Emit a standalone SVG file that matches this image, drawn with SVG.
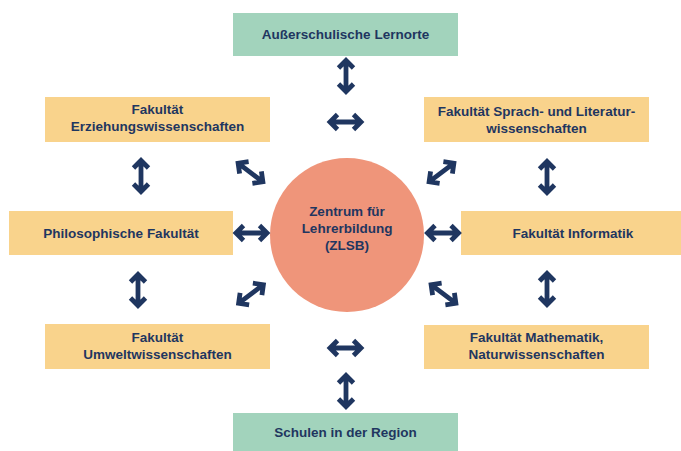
<svg xmlns="http://www.w3.org/2000/svg" xmlns:xlink="http://www.w3.org/1999/xlink" width="681" height="451" viewBox="0 0 681 451">
<style>
.g{fill:#a2d3bc}
.o{fill:#f9d38c}
.c{fill:#ef957a}
.t{font-family:"Liberation Sans",Arial,sans-serif;font-weight:bold;font-size:13.5px;fill:#1f3660;text-anchor:middle}
.a{fill:none;stroke:#1f3660;stroke-width:4.8;stroke-linecap:butt;stroke-linejoin:miter}
</style>
<defs>
<g id="arr"><path class="a" d="M-13.5,0 H13.5 M-8,-7.5 L-15.5,0 L-8,7.5 M8,-7.5 L15.5,0 L8,7.5"/></g>
</defs>
<rect width="681" height="451" fill="#ffffff"/>
<g id="aussen"><rect class="g" x="233" y="13" width="225" height="43"/><text class="t" x="345.5" y="38.5">Außerschulische Lernorte</text></g>
<g id="erz"><rect class="o" x="45" y="97" width="225" height="45"/><text class="t" x="157.5" y="114">Fakultät</text><text class="t" x="157.5" y="131">Erziehungswissenschaften</text></g>
<g id="sprach"><rect class="o" x="424" y="97" width="225" height="45"/><text class="t" x="536.5" y="116">Fakultät Sprach- und Literatur-</text><text class="t" x="536.5" y="133">wissenschaften</text></g>
<g id="philo"><rect class="o" x="9" y="211" width="224" height="44"/><text class="t" x="121" y="237.5">Philosophische Fakultät</text></g>
<g id="zlsb"><circle class="c" cx="347" cy="235" r="77"/><text class="t" x="347" y="216">Zentrum für</text><text class="t" x="347" y="233">Lehrerbildung</text><text class="t" x="347" y="250">(ZLSB)</text></g>
<g id="info"><rect class="o" x="461" y="211" width="220" height="44"/><text class="t" x="573" y="237.5">Fakultät Informatik</text></g>
<g id="umwelt"><rect class="o" x="45" y="324" width="225" height="45"/><text class="t" x="157.5" y="342">Fakultät</text><text class="t" x="157.5" y="359">Umweltwissenschaften</text></g>
<g id="mathe"><rect class="o" x="424" y="325" width="225" height="44"/><text class="t" x="536.5" y="342">Fakultät Mathematik,</text><text class="t" x="536.5" y="359">Naturwissenschaften</text></g>
<g id="schulen"><rect class="g" x="233" y="413" width="225" height="38"/><text class="t" x="345.5" y="436.5">Schulen in der Region</text></g>
<g id="connectors">
<use xlink:href="#arr" transform="translate(346,76) rotate(90)"/>
<use xlink:href="#arr" transform="translate(345.5,122)"/>
<use xlink:href="#arr" transform="translate(141,176) rotate(90)"/>
<use xlink:href="#arr" transform="translate(250.5,172.5) rotate(37)"/>
<use xlink:href="#arr" transform="translate(441.5,172.5) rotate(-37)"/>
<use xlink:href="#arr" transform="translate(547,177) rotate(90)"/>
<use xlink:href="#arr" transform="translate(251.5,233)"/>
<use xlink:href="#arr" transform="translate(443,233)"/>
<use xlink:href="#arr" transform="translate(138,290) rotate(90)"/>
<use xlink:href="#arr" transform="translate(251,294) rotate(-37)"/>
<use xlink:href="#arr" transform="translate(443.5,294) rotate(37)"/>
<use xlink:href="#arr" transform="translate(547,289) rotate(90)"/>
<use xlink:href="#arr" transform="translate(345.5,348)"/>
<use xlink:href="#arr" transform="translate(346,391) rotate(90)"/>
</g>
</svg>
